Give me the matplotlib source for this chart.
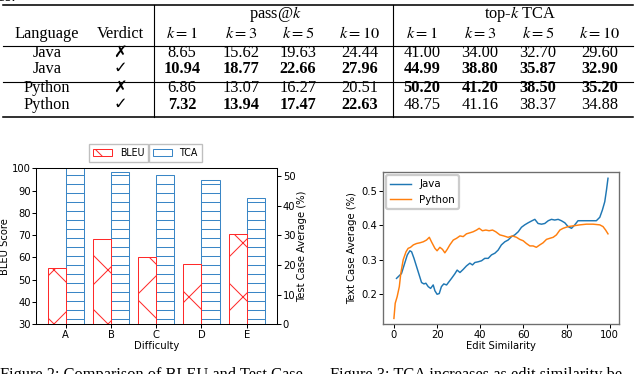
import matplotlib
matplotlib.use('Agg')
import matplotlib.pyplot as plt
from matplotlib.lines import Line2D
import numpy as np

# canvas: 640x374 px; a high dpi keeps the hatch pattern coarse like the reference
W, H, DPI = 640, 374, 162
SERIF = ['Liberation Serif', 'DejaVu Sans']
TS = 7.3    # table / caption font (pt)
CS = 4.45   # chart font (pt)

plt.rcParams['mathtext.fontset'] = 'stix'
plt.rcParams['font.family'] = ['DejaVu Sans']
plt.rcParams['hatch.linewidth'] = 0.45

# ---- table data ----
languages = ['Java', 'Java', 'Python', 'Python']
verdicts = ['\u2717', '\u2713', '\u2717', '\u2713']
k_values = [1, 3, 5, 10]
pass_at_k = [[8.65, 15.62, 19.63, 24.44],
             [10.94, 18.77, 22.66, 27.96],
             [6.86, 13.07, 16.27, 20.51],
             [7.32, 13.94, 17.47, 22.63]]
top_k_tca = [[41.00, 34.00, 32.70, 29.60],
             [44.99, 38.80, 35.87, 32.90],
             [50.20, 41.20, 38.50, 35.20],
             [48.75, 41.16, 38.37, 34.88]]

# ---- figure 2 data ----
difficulty = ['A', 'B', 'C', 'D', 'E']
bleu = [55.1, 68.1, 60.3, 56.9, 70.6]
tca = [53.5, 51.3, 50.3, 48.7, 42.6]

# ---- figure 3 data ----
java_x = [1.2, 3.5, 5, 6.2, 7.4, 8.2, 9.3, 10.5, 11.7, 12.8, 13.9, 14.8, 15.9, 17,
          18.2, 19, 20, 21, 22, 23.1, 24.4, 25.6, 26.7, 28.2, 29.3, 30.6, 32.1, 33.6,
          35.2, 36.4, 37.5, 39, 40.6, 42.1, 43.7, 45.2, 46.8, 48.3, 49.8, 51.4, 52.9,
          54.5, 56, 57.6, 59.1, 60.6, 62.2, 63.7, 65.3, 66.8, 68.4, 69.9, 71.5, 73,
          74.5, 76.1, 77.6, 79.2, 80.7, 82.3, 83.8, 85.3, 87.7, 90.7, 93.8, 95.4,
          96.6, 97.7, 98.5, 99.2]
java_y = [0.246, 0.260, 0.290, 0.314, 0.326, 0.323, 0.304, 0.280, 0.256, 0.234,
          0.230, 0.232, 0.222, 0.217, 0.227, 0.210, 0.200, 0.202, 0.222, 0.230,
          0.227, 0.237, 0.246, 0.259, 0.270, 0.263, 0.272, 0.282, 0.290, 0.285,
          0.292, 0.294, 0.297, 0.304, 0.304, 0.314, 0.319, 0.328, 0.343, 0.352,
          0.357, 0.367, 0.372, 0.381, 0.394, 0.401, 0.407, 0.412, 0.417, 0.405,
          0.403, 0.405, 0.413, 0.417, 0.415, 0.417, 0.413, 0.407, 0.396, 0.391,
          0.401, 0.413, 0.413, 0.413, 0.413, 0.423, 0.444, 0.468, 0.502, 0.536]
python_x = [0, 0.6, 1.5, 2.5, 3.2, 4.3, 5.6, 6.6, 7.7, 9, 10.5, 12, 13.6, 15.1, 16.4,
            17.4, 19, 20, 21.3, 22.5, 23.6, 24.7, 25.9, 27.5, 29, 30.6, 32.1, 33.6,
            35.2, 36.7, 38.3, 39.5, 41, 42.6, 44.1, 45.7, 47.2, 49.1, 50.9, 52.9,
            54.9, 56.8, 58.3, 59.9, 61.4, 63, 64.5, 66, 67.6, 69.1, 70.7, 72.2, 73.8,
            75.3, 76.9, 78.4, 80.7, 83, 86.1, 89.2, 92.3, 95.4, 96.9, 98.1, 99.2]
python_y = [0.130, 0.174, 0.193, 0.222, 0.261, 0.300, 0.323, 0.333, 0.336, 0.343,
            0.347, 0.349, 0.352, 0.357, 0.365, 0.352, 0.333, 0.326, 0.336, 0.330,
            0.320, 0.330, 0.343, 0.357, 0.362, 0.369, 0.367, 0.375, 0.378, 0.381,
            0.386, 0.391, 0.384, 0.386, 0.384, 0.386, 0.381, 0.372, 0.369, 0.365,
            0.369, 0.365, 0.359, 0.355, 0.347, 0.340, 0.340, 0.336, 0.343, 0.349,
            0.359, 0.362, 0.365, 0.372, 0.386, 0.391, 0.396, 0.398, 0.401, 0.403,
            0.403, 0.401, 0.396, 0.386, 0.375]


def fx(x):
    return x / W


def fy(y):
    return 1 - y / H


def axrect(l, t, r, b):
    return [fx(l), fy(b), (r - l) / W, (b - t) / H]


fig = plt.figure(figsize=(W / DPI, H / DPI), dpi=DPI)

# ---------------- table ----------------
def ttext(x, y, s, bold=False):
    fig.text(fx(x), fy(y), s, ha='center', va='baseline', fontsize=TS,
             family=SERIF, fontweight='bold' if bold else 'normal')


def hline(y, x0=3, x1=633, lw=0.5):
    fig.add_artist(Line2D([fx(x0), fx(x1)], [fy(y), fy(y)], color='black', lw=lw))


fig.text(fx(16), fy(1), 'tables.', ha='right', va='baseline', fontsize=TS, family=SERIF)

hline(5, lw=0.7)
hline(46)
hline(82)
hline(117, lw=0.7)
for xv in (154, 393):
    fig.add_artist(Line2D([fx(xv), fx(xv)], [fy(5), fy(117)], color='black', lw=0.5))

pass_cols = [182, 241, 298, 360]
tca_cols = [422, 480, 538, 600]
row_base = [56.7, 73.3, 92.3, 109.3]

ttext(275, 17.5, 'pass@$k$')
ttext(520, 17.5, 'top-$k$ TCA')
ttext(47, 37.5, 'Language')
ttext(120, 37.5, 'Verdict')
for j, k in enumerate(k_values):
    ttext(pass_cols[j], 37.5, '$k = %d$' % k)
    ttext(tca_cols[j], 37.5, '$k = %d$' % k)

for i in range(4):
    ttext(47, row_base[i], languages[i])
    ttext(120, row_base[i], verdicts[i])
    other = i + 1 if i % 2 == 0 else i - 1
    for j in range(4):
        ttext(pass_cols[j], row_base[i], '%.2f' % pass_at_k[i][j],
              bold=pass_at_k[i][j] > pass_at_k[other][j])
        ttext(tca_cols[j], row_base[i], '%.2f' % top_k_tca[i][j],
              bold=top_k_tca[i][j] > top_k_tca[other][j])

# ---------------- figure 2: bars ----------------
ax = fig.add_axes(axrect(36, 168.3, 276.5, 324.3))
ax2 = ax.twinx()
x = np.arange(len(difficulty))
b1 = ax.bar(x, bleu, width=0.4, align='edge', color='white', edgecolor='#ff2a2a',
            hatch='x', lw=0.45, label='BLEU')
b2 = ax2.bar(x, tca, width=-0.4, align='edge', color='white', edgecolor='#3a86c6',
             hatch='---', lw=0.45, label='TCA')
# BLEU on the left of the tick, TCA on the right
for r in b1:
    r.set_x(r.get_x() - 0.4)
for r in b2:
    r.set_x(r.get_x() + 0.4)
ax.set_zorder(ax2.get_zorder() + 1)
ax.patch.set_visible(False)

ax.set_xlim(-0.66, 4.66)
ax.set_ylim(30, 100)
ax.set_yticks(range(30, 101, 10))
ax2.set_ylim(0, 52.6)
ax2.set_yticks(range(0, 51, 10))
ax.set_xticks(x)
ax.set_xticklabels(difficulty)
for a in (ax, ax2):
    a.tick_params(labelsize=CS, length=1.8, width=0.45, pad=0.6)
    for s in a.spines.values():
        s.set_linewidth(0.45)
ax2.tick_params(pad=1.0)
ax.set_xlabel('Difficulty', fontsize=CS)
ax.set_ylabel('BLEU Score', fontsize=CS)
ax2.set_ylabel('Test Case Average (%)', fontsize=CS)
ax.xaxis.set_label_coords(0.5, -0.105)
ax.yaxis.set_label_coords(-0.108, 0.5)
ax2.yaxis.set_label_coords(1.087, 0.5)

leg1 = ax.legend(handles=[b1], loc='lower right', bbox_to_anchor=(fx(148), fy(161.5)),
                 bbox_transform=fig.transFigure, borderaxespad=0, fontsize=CS * 0.95,
                 fancybox=False, edgecolor='0.75', framealpha=1)
leg2 = ax2.legend(handles=[b2], loc='lower left', bbox_to_anchor=(fx(149), fy(161.5)),
                  bbox_transform=fig.transFigure, borderaxespad=0, fontsize=CS * 0.95,
                  fancybox=False, edgecolor='0.75', framealpha=1)
for lg in (leg1, leg2):
    lg.get_frame().set_linewidth(0.6)

# ---------------- figure 3: lines ----------------
bx = fig.add_axes(axrect(382.7, 171.7, 619, 324.3))
bx.plot(java_x, java_y, color='#1f77b4', lw=0.65, label='Java')
bx.plot(python_x, python_y, color='#ff7f0e', lw=0.65, label='Python')
bx.set_xlim(-5.2, 104.3)
bx.set_ylim(0.113, 0.555)
bx.set_xticks([0, 20, 40, 60, 80, 100])
bx.set_yticks([0.2, 0.3, 0.4, 0.5])
bx.tick_params(labelsize=CS, length=1.8, width=0.45, pad=0.8)
for s in bx.spines.values():
    s.set_linewidth(0.6)
    s.set_color('#6e6e6e')
bx.set_xlabel('Edit Similarity', fontsize=CS)
bx.set_ylabel('Text Case Average (%)', fontsize=CS)
bx.xaxis.set_label_coords(0.5, -0.11)
bx.yaxis.set_label_coords(-0.11, 0.5)
bx.legend(loc='upper left', fontsize=CS * 1.03, borderaxespad=0.35, framealpha=1,
          edgecolor='0.8')

# ---------------- captions ----------------
fig.text(fx(0), fy(379), 'Figure 2: Comparison of BLEU and Test Case',
         ha='left', va='baseline', fontsize=TS, family=SERIF)
fig.text(fx(330), fy(379), 'Figure 3: TCA increases as edit similarity be-',
         ha='left', va='baseline', fontsize=TS, family=SERIF)

fig.savefig('out.png', dpi=DPI)
